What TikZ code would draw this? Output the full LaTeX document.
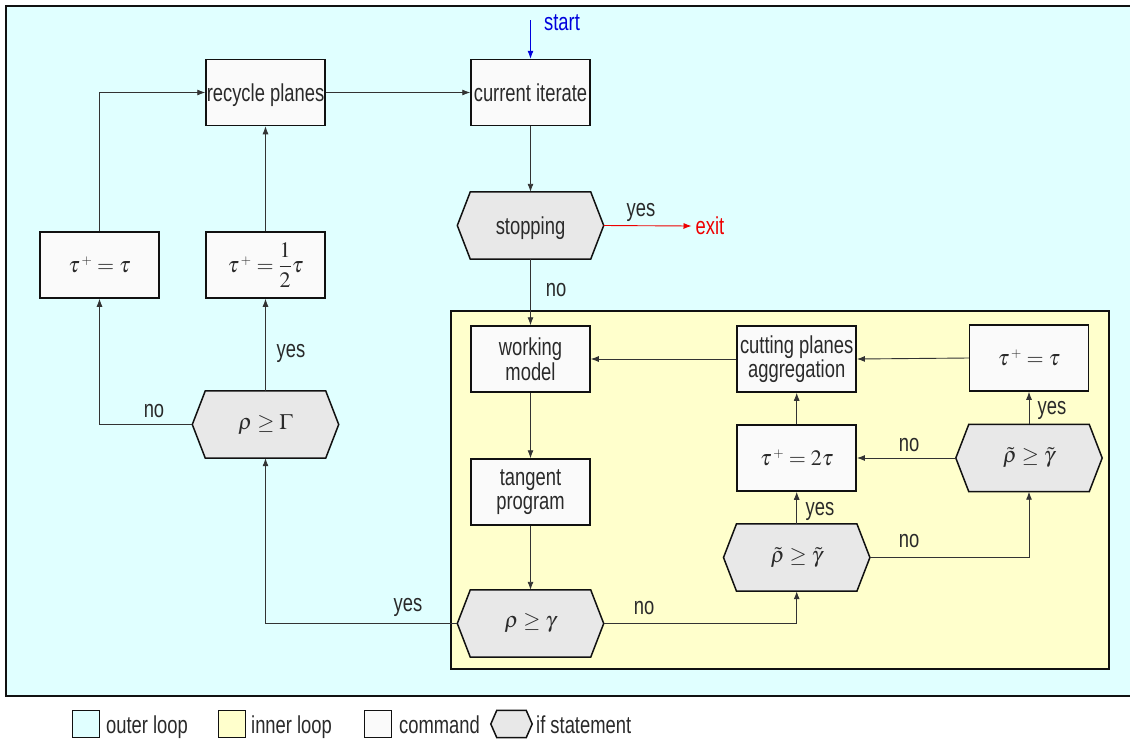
\documentclass[tikz,border=0pt]{standalone}
\usepackage{amsmath}
\usepackage{mathptmx}
\usepackage[no-math]{fontspec}
\setmainfont{Liberation Sans}[FakeStretch=0.75]
\usetikzlibrary{arrows.meta}
\pgfdeclarelayer{bg}
\pgfdeclarelayer{hexl}
\pgfsetlayers{bg,hexl,main}
\definecolor{outerc}{HTML}{E0FFFF}
\definecolor{innerc}{HTML}{FFFFCC}
\definecolor{cmdc}{HTML}{FAFAFA}
\definecolor{ifc}{HTML}{E8E8E8}
\definecolor{txt}{HTML}{2A2A2A}
\definecolor{edgec}{HTML}{333333}
\definecolor{frame}{HTML}{111111}
\definecolor{startc}{HTML}{0000DD}
\definecolor{exitc}{HTML}{EE0000}
\newcommand{\tplus}{\tau^{\,\scriptscriptstyle +}}
\tikzset{
  cmd/.style={draw=frame, fill=cmdc, line width=1.5pt, minimum width=119pt, minimum height=66pt, inner sep=0pt, align=center},
  ifs/.style={minimum width=146pt, minimum height=67pt, inner sep=0pt, align=center},
  oneline/.style={text height=20pt, text depth=3pt},
  mathtxt/.style={font=\fontsize{22}{24}\selectfont},
  hexst/.style={draw=frame, fill=ifc, line width=1.5pt, line join=miter},
  arr/.style={draw=edgec, line width=0.9pt, -{Latex[length=8pt,width=6pt]}},
  lbl/.style={inner sep=0pt, text=txt, anchor=base},
  legbox/.style={draw=frame, line width=1.5pt, minimum width=27pt, minimum height=27pt, inner sep=0pt},
}
\begin{document}
\begin{tikzpicture}[x=1pt, y=-1pt, font=\fontsize{24.5}{24.5}\selectfont, text=txt]
\useasboundingbox (0,0) rectangle (1130,740);
\begin{pgfonlayer}{bg}
\draw[fill=outerc, draw=frame, line width=1.7pt] (6,6) rectangle (1140,696);
\draw[fill=innerc, draw=frame, line width=1.5pt] (451,311) rectangle (1109,669);
\end{pgfonlayer}

% commands
\node[cmd, oneline] (rec)  at (265.5,92.5) {recycle planes};
\node[cmd, oneline] (cur)  at (530.5,92.5) {current iterate};
\node[cmd, mathtxt] (tauL) at (99.5,265) {$\tplus=\tau$};
\node[cmd, mathtxt] (half) at (265.5,265) {$\tplus=\dfrac{1}{2}\tau$};
\node[cmd] (work) at (530.5,359) {working\\model};
\node[cmd] (tan)  at (530.5,492) {tangent\\program};
\node[cmd] (cut)  at (796.7,359) {cutting planes\\aggregation};
\node[cmd, mathtxt] (tauR) at (1029,358) {$\tplus=\tau$};
\node[cmd, mathtxt] (tau2) at (796.7,458) {$\tplus=2\tau$};

% if statements
\node[ifs, oneline] (stop) at (530.5,225.5) {stopping};
\node[ifs, mathtxt] (rhoG) at (265.5,424.5) {$\rho\geq\Gamma$};
\node[ifs, mathtxt] (rhog) at (530.5,623.5) {$\rho\geq\gamma$};
\node[ifs, mathtxt] (mid)  at (796.7,557.5) {$\tilde{\rho}\geq\tilde{\gamma}$};
\node[ifs, mathtxt] (rhex) at (1029,458) {$\tilde{\rho}\geq\tilde{\gamma}$};

\begin{pgfonlayer}{hexl}
\foreach \n in {stop,rhoG,rhog,mid,rhex}{
  \draw[hexst] (\n.west) -- ([xshift=13pt]\n.north west) -- ([xshift=-13pt]\n.north east) -- (\n.east) -- ([xshift=-13pt]\n.south east) -- ([xshift=13pt]\n.south west) -- cycle;
}
\end{pgfonlayer}

% start / exit
\coordinate (st) at (530.5,20);
\node[lbl, text=startc] (startl) at (562,30) {start};
\node[inner sep=4pt, text=exitc, oneline] (exit) at (710,226) {exit};

% connectors
\draw[arr, draw=startc] (st) -- (cur.north);
\draw[arr] (rec.east) -- (cur.west);
\draw[arr] (cur.south) -- (stop.north);
\draw[arr, draw=exitc] (stop.east) -- (exit.west);
\draw[arr] (stop.south) -- (work.north);
\draw[arr] (work.south) -- (tan.north);
\draw[arr] (tan.south) -- (rhog.north);
\draw[arr] (rhog.west) -| (rhoG.south);
\draw[arr] (rhoG.north) -- (half.south);
\draw[arr] (rhoG.west) -| (tauL.south);
\draw[arr] (half.north) -- (rec.south);
\draw[arr] (tauL.north) |- (rec.west);
\draw[arr] (rhog.east) -| (mid.south);
\draw[arr] (mid.north) -- (tau2.south);
\draw[arr] (mid.east) -| (rhex.south);
\draw[arr] (rhex.west) -- (tau2.east);
\draw[arr] (rhex.north) -- (tauR.south);
\draw[arr] (tau2.north) -- (cut.south);
\draw[arr] (tauR.west) -- (cut.east);
\draw[arr] (cut.west) -- (work.east);

% labels
\node[lbl] (l1) at (641,216) {yes};
\node[lbl] (l2) at (556,296) {no};
\node[lbl] (l3) at (291,357) {yes};
\node[lbl] (l4) at (154,417) {no};
\node[lbl] (l5) at (408,611) {yes};
\node[lbl] (l6) at (644,614) {no};
\node[lbl] (l7) at (820,515) {yes};
\node[lbl] (l8) at (909,547) {no};
\node[lbl] (l9) at (909,451) {no};
\node[lbl] (l10) at (1052,414) {yes};

% legend
\node[legbox, fill=outerc] (lg1) at (86,724) {};
\node[lbl, anchor=base west] (lt1) at (106,733) {outer loop};
\node[legbox, fill=innerc] (lg2) at (232,724) {};
\node[lbl, anchor=base west] (lt2) at (251,733) {inner loop};
\node[legbox, fill=cmdc] (lg3) at (378,724) {};
\node[lbl, anchor=base west] (lt3) at (399,733) {command};
\node[minimum width=41pt, minimum height=27pt, inner sep=0pt] (lg4) at (511.5,724) {};
\draw[hexst] (lg4.west) -- ([xshift=6pt]lg4.north west) -- ([xshift=-6pt]lg4.north east) -- (lg4.east) -- ([xshift=-6pt]lg4.south east) -- ([xshift=6pt]lg4.south west) -- cycle;
\node[lbl, anchor=base west] (lt4) at (536,733) {if statement};
\end{tikzpicture}
\end{document}
